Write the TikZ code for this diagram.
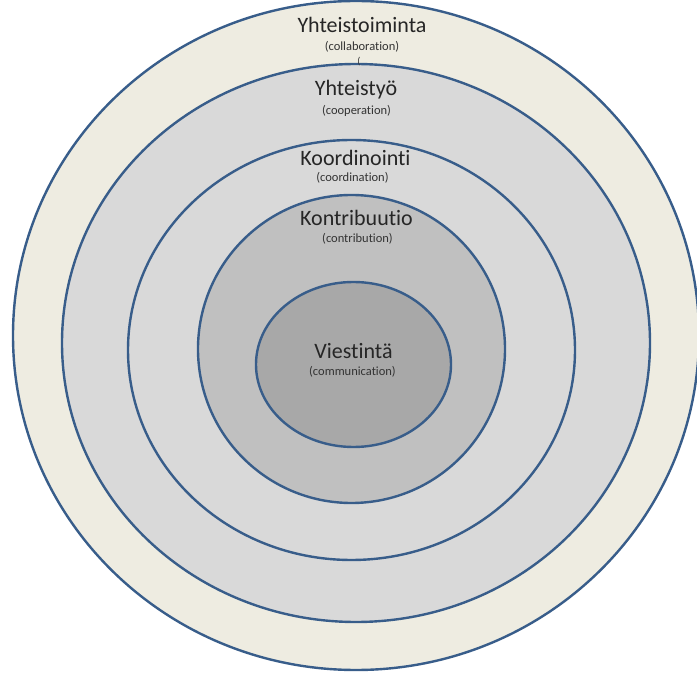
\documentclass[tikz,border=0pt]{standalone}
\usepackage{fontspec}
\setmainfont{Carlito}[Ligatures={NoCommon}]
\definecolor{ringline}{RGB}{56,93,138}
\definecolor{cream}{RGB}{238,236,225}
\definecolor{gray1}{RGB}{217,217,217}
\definecolor{gray2}{RGB}{192,192,192}
\definecolor{gray3}{RGB}{168,168,168}
\begin{document}
\begin{tikzpicture}[x=1pt,y=-1pt,
  ring/.style={draw=ringline,line width=2.4pt},
  bigtext/.style={inner sep=0pt,font=\fontsize{22}{24}\selectfont,text=black!85},
  smalltext/.style={inner sep=0pt,font=\fontsize{12.5}{14}\selectfont,text=black!80}]
\useasboundingbox[fill=white] (0,0) rectangle (697,676);
\begin{scope}
\clip (0,0) rectangle (697,676);
\draw[ring,fill=cream] (356,335.5) ellipse [x radius=343,y radius=334.5];
\end{scope}
\draw[ring,fill=gray1] (356,343) ellipse [x radius=294,y radius=279];
\draw[ring,fill=gray1] (351.5,350) ellipse [x radius=223.5,y radius=210];
\draw[ring,fill=gray2] (351.5,349) ellipse [x radius=153.5,y radius=154];
\draw[ring,fill=gray3] (353.5,364.5) ellipse [x radius=97.5,y radius=82.5];
\node[bigtext] (l1) at (362,25) {Yhteistoiminta};
\node[smalltext] (s1) at (362,47) {(collaboration)};
\node[smalltext,font=\fontsize{10}{12}\selectfont] (s1b) at (359,62) {(};
\node[bigtext] (l2) at (356,90) {Yhteistyö};
\node[smalltext] (s2) at (356.5,111) {(cooperation)};
\node[bigtext] (l3) at (355.5,158) {Koordinointi};
\node[smalltext] (s3) at (352.5,178) {(coordination)};
\node[bigtext] (l4) at (356.5,218) {Kontribuutio};
\node[smalltext] (s4) at (357.5,239) {(contribution)};
\node[bigtext] (l5) at (353.5,351) {Viestintä};
\node[smalltext] (s5) at (352.5,372) {(communication)};
\end{tikzpicture}
\end{document}
